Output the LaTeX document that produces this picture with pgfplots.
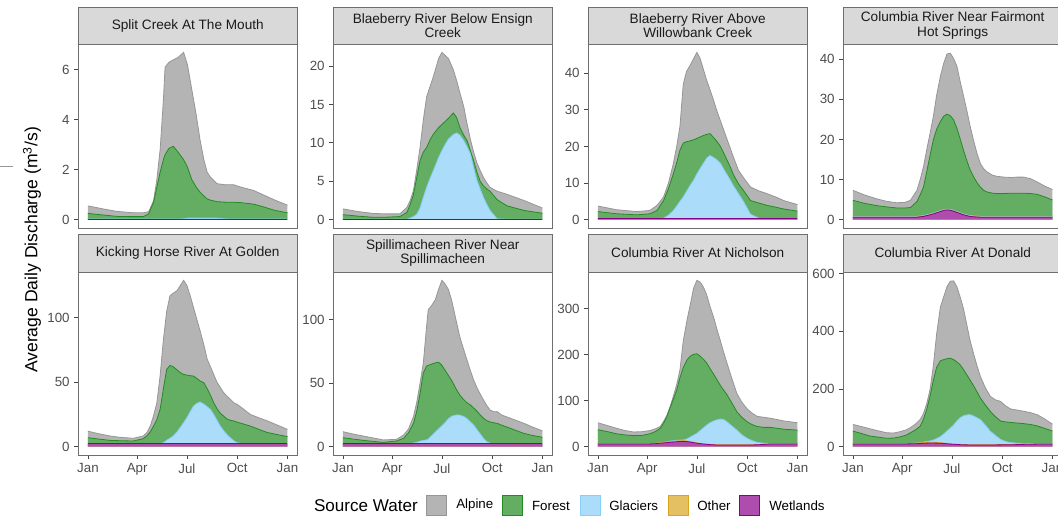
\documentclass[border=0pt]{standalone}
\usepackage{fontspec}
\setmainfont{Liberation Sans}
\usepackage{pgfplots}
\usepackage{pgfplotstable}
\pgfplotsset{compat=1.18}

\definecolor{cA}{RGB}{180,180,180}\definecolor{lA}{RGB}{150,150,150}
\definecolor{cF}{RGB}{100,174,100}\definecolor{lF}{RGB}{34,139,34}
\definecolor{cG}{RGB}{171,221,251}\definecolor{lG}{RGB}{135,206,250}
\definecolor{cO}{RGB}{229,192,99}\definecolor{lO}{RGB}{218,165,32}
\definecolor{cW}{RGB}{174,77,174}\definecolor{lW}{RGB}{139,0,139}
\definecolor{bordercol}{RGB}{110,110,110}
\definecolor{tickcol}{RGB}{70,70,70}
\definecolor{labelcol}{RGB}{77,77,77}
\definecolor{stripfill}{RGB}{217,217,217}
\definecolor{striptext}{RGB}{26,26,26}

% columns: day, cumulative tops of Wetlands, Other, Glaciers, Forest, Alpine
\pgfplotstableread{
d W O G F A
0 0.02 0.02 0.02 0.25 0.55
30 0.02 0.02 0.02 0.18 0.42
53 0.02 0.02 0.02 0.13 0.33
80 0.02 0.02 0.02 0.12 0.28
101 0.02 0.02 0.02 0.12 0.27
111 0.02 0.02 0.02 0.23 0.32
120 0.02 0.02 0.02 0.70 0.75
126 0.02 0.02 0.02 1.30 1.60
132 0.02 0.02 0.02 1.90 2.80
138 0.02 0.02 0.02 2.40 4.80
141 0.02 0.02 0.02 2.60 6.10
148 0.02 0.02 0.02 2.85 6.30
156 0.02 0.02 0.02 2.94 6.40
165 0.02 0.02 0.02 2.70 6.50
175 0.02 0.02 0.03 2.40 6.70
182 0.02 0.02 0.06 2.10 6.20
190 0.02 0.02 0.06 1.60 5.20
198 0.02 0.02 0.06 1.30 4.20
205 0.02 0.02 0.06 1.10 3.20
212 0.02 0.02 0.06 0.95 2.40
218 0.02 0.02 0.06 0.83 1.90
224 0.02 0.02 0.06 0.78 1.70
236 0.02 0.02 0.06 0.72 1.44
250 0.02 0.02 0.03 0.70 1.40
266 0.02 0.02 0.02 0.70 1.40
280 0.02 0.02 0.02 0.68 1.30
303 0.02 0.02 0.02 0.62 1.17
320 0.02 0.02 0.02 0.52 1.00
340 0.02 0.02 0.02 0.38 0.80
365 0.02 0.02 0.02 0.27 0.58
}\tA

\pgfplotstableread{
d W O G F A
0 .05 .05 .05 .65 1.4
28 .05 .05 .05 .45 1.05
56 .05 .05 .05 .30 .80
80 .05 .05 .05 .32 .75
104 .05 .05 .05 .40 .75
117 .05 .05 .05 .95 1.6
123 .05 .05 .2 2.0 2.5
129 .05 .05 .4 3.3 3.8
135 .05 .05 .7 5.5 6.5
141 .05 .05 1.5 7.7 9.4
147 .05 .05 2.9 8.8 13
153 .05 .05 4.2 9.4 16
160 .05 .05 5.5 10.5 17.5
166 .05 .05 6.5 11.2 18.8
175 .05 .05 8.1 12.0 21
181 .05 .05 9.0 12.4 21.8
187 .05 .05 9.8 12.8 21.4
193 .05 .05 10.5 13.2 21
202 .05 .05 11.1 13.9 19.5
208 .05 .05 11.3 13.3 18.1
214 .05 .05 11.0 12.0 16.5
221 .05 .05 10.3 11.0 14.7
227 .05 .05 9.5 10.3 12.5
233 .05 .05 8.6 9.0 10.5
239 .05 .05 6.8 7.7 8.8
245 .05 .05 5.1 6.2 7.4
251 .05 .05 4.0 5.0 6.4
257 .05 .05 2.9 4.4 5.5
263 .05 .05 2.0 4.0 4.8
269 .05 .05 1.2 3.7 4.2
282 .05 .05 .1 2.6 3.7
300 .05 .05 .05 1.8 3.3
331 .05 .05 .05 1.2 2.5
365 .05 .05 .05 .83 1.5
}\tB

\pgfplotstableread{
d W O G F A
0 .3 .3 .3 2.2 3.7
34 .3 .3 .3 1.6 2.7
71 .3 .3 .3 1.3 2.2
95 .3 .3 .3 1.6 2.5
108 .3 .3 .3 2.5 3.9
120 .3 .3 .4 5.2 6.2
129 .3 .3 1.2 8.5 10
138 .3 .3 2.5 12.6 15.4
144 .3 .3 3.7 15.5 20
150 .3 .3 5.0 19.0 25.5
156 .3 .3 6.2 20.9 37
162 .3 .3 7.7 21.3 40.5
168 .3 .3 9.2 21.5 42
175 .3 .3 10.8 21.8 44
181 .3 .3 12.5 22.2 45.7
187 .3 .3 14.0 22.6 44
193 .3 .3 15.4 23.0 41
199 .3 .3 16.8 23.3 38
205 .3 .3 17.5 23.5 35.5
211 .3 .3 17.0 22.5 32.8
218 .3 .3 16.3 21.3 29.5
224 .3 .3 15.4 20.0 27
230 .3 .3 13.8 18.2 24.5
236 .3 .3 12.3 16.3 22
242 .3 .3 10.8 14.4 19.5
248 .3 .3 9.2 12.2 17
257 .3 .3 7.1 9.8 13.5
266 .3 .3 5.0 8.0 11.5
279 .3 .3 1.5 5.2 8.9
295 .3 .3 .3 4.5 7.8
309 .3 .3 .3 3.9 7.1
325 .3 .3 .3 3.4 6.2
340 .3 .3 .3 2.9 5.2
365 .3 .3 .3 2.3 4.1
}\tC

\pgfplotstableread{
d W O G F A
0 .6 .65 .8 4.8 7.3
20 .6 .65 .8 4.1 6.2
43 .6 .65 .8 3.5 5.2
60 .6 .65 .8 3.2 4.6
80 .6 .65 .8 2.9 4.2
95 .6 .65 .8 2.9 4.3
105 .6 .65 .8 3.0 4.8
117 .6 .65 .8 4.5 7.3
123 .7 .75 .9 6.2 10
129 .8 .85 1.0 8.1 13.2
135 1.0 1.05 1.2 12 17.5
141 1.2 1.25 1.4 16 21.5
147 1.4 1.45 1.6 19.9 25.7
153 1.7 1.75 1.9 22.5 31
160 2.0 2.05 2.2 24.5 35.8
166 2.3 2.35 2.5 25.8 39
172 2.4 2.45 2.6 26.3 41.3
178 2.35 2.4 2.55 25.9 41.5
184 2.1 2.15 2.3 24.9 40.2
190 1.8 1.85 2.0 22.8 38.3
196 1.5 1.55 1.7 20.2 34.5
202 1.2 1.25 1.4 17.4 31
208 1.0 1.05 1.2 14.8 27.4
214 .8 .85 1.0 12.5 23.5
221 .7 .75 .9 10.6 19.5
227 .65 .7 .85 9.2 16.5
233 .6 .65 .8 8.1 14
239 .6 .65 .8 7.3 12.7
245 .6 .65 .8 6.9 11.9
255 .6 .65 .8 6.6 11.1
263 .6 .65 .8 6.5 10.8
276 .6 .65 .8 6.5 10.6
290 .6 .65 .8 6.6 10.5
300 .6 .65 .8 6.6 10.6
312 .6 .65 .8 6.6 10.6
325 .6 .65 .8 6.5 10.2
337 .6 .65 .8 6.3 9.4
350 .6 .65 .8 5.7 8.4
365 .6 .65 .8 4.9 7.5
}\tD

\pgfplotstableread{
d W O G F A
0 2.2 2.3 2.3 7.0 12
20 2.2 2.3 2.3 5.9 10
40 2.2 2.3 2.3 4.9 8.3
60 2.2 2.3 2.3 4.6 7.2
83 2.2 2.3 2.3 4.4 6.5
101 2.2 2.3 2.3 6.2 8.3
108 2.2 2.3 2.3 8.5 11
114 2.2 2.3 2.3 11.5 16
120 2.2 2.3 2.3 16 24
126 2.2 2.3 2.3 21 34
132 2.2 2.3 2.3 29 55
138 2.2 2.3 3.0 45 83
144 2.2 2.3 5.0 60 105
150 2.2 2.3 6.5 63 117
156 2.2 2.3 8.3 62 119
163 2.2 2.3 11.5 59.5 121
169 2.2 2.3 15 57.4 125
175 2.2 2.3 18.6 56 129
181 2.2 2.3 22.5 55.5 125
187 2.2 2.3 27 55 117
193 2.2 2.3 31.5 54.8 108
199 2.2 2.3 33.5 53 99
205 2.2 2.3 34.6 51 90
212 2.2 2.3 33 49.6 79
218 2.2 2.3 31 45 68
224 2.2 2.3 28.9 40 62
230 2.2 2.3 25 34.1 56
236 2.2 2.3 20.5 29.5 50
242 2.2 2.3 16 26 46
248 2.2 2.3 12.5 23.8 42
254 2.2 2.3 9.5 21.5 39.3
260 2.2 2.3 7 20.5 37
267 2.2 2.3 4.5 19.9 34
273 2.2 2.3 3 19 32.8
285 2.2 2.3 2.3 17.5 29
297 2.2 2.3 2.3 16 25
312 2.2 2.3 2.3 13.5 22.5
328 2.2 2.3 2.3 11 20
345 2.2 2.3 2.3 9.5 17
365 2.2 2.3 2.3 7.8 13.4
}\tE

\pgfplotstableread{
d W O G F A
0 2.2 2.3 2.3 7.1 11.8
20 2.2 2.3 2.3 5.9 9.8
43 2.2 2.3 2.3 4.7 7.9
74 2.2 2.3 2.3 3.4 5.3
98 2.2 2.3 2.3 4.5 5.8
111 2.2 2.3 2.3 6.6 9.2
120 2.2 2.3 2.3 11 14
129 2.2 2.3 2.8 18.4 23.7
135 2.2 2.3 3.5 28 35
141 2.2 2.3 4.3 42 50
147 2.2 2.3 5 58 65.8
153 2.2 2.3 5.3 63.5 95
156 2.2 2.3 6 64 107.9
162 2.2 2.3 8.5 65 111
169 2.2 2.3 11.5 66 115.8
175 2.2 2.3 14 66.5 124
181 2.2 2.3 16.5 64 131
187 2.2 2.3 19 60 128
193 2.2 2.3 22 56 123.7
199 2.2 2.3 24 52 115
208 2.2 2.3 25 44.7 97.4
214 2.2 2.3 24.8 40.5 86
221 2.2 2.3 23.7 37 76.3
227 2.2 2.3 22 34.5 68
233 2.2 2.3 19.5 32.9 60
239 2.2 2.3 17.1 30.5 52.6
245 2.2 2.3 13.5 28 46.5
251 2.2 2.3 10 25 41.5
257 2.2 2.3 6.6 22.4 36.8
263 2.2 2.3 4 20.5 32.5
269 2.2 2.3 2.8 19.5 28.9
276 2.2 2.3 2.3 18.8 27.5
282 2.2 2.3 2.3 18.4 27.6
290 2.2 2.3 2.3 17 25
306 2.2 2.3 2.3 14.5 22.4
318 2.2 2.3 2.3 12.5 20.5
331 2.2 2.3 2.3 10.5 18.4
345 2.2 2.3 2.3 9 15.8
365 2.2 2.3 2.3 7.4 12.4
}\tF

\pgfplotstableread{
d W O G F A
0 6 6.5 6.5 37 52
20 6 6.5 6.5 32 45
34 6 6.5 6.5 28 40
50 6 6.5 6.5 25.5 35
65 6 6.5 6.5 24 32
80 6 6.5 6.5 24.5 32.5
95 6 6.5 6.5 28 35
105 6.5 7 7 33 39
114 7.5 8.5 8.5 40 44
120 8.2 9.5 9.5 51 55
126 8.8 10.3 10.5 65 68
132 9.4 11 12 85 87
138 10.1 11.6 13 104 110
144 10.8 12.3 13.8 123 135
150 11.3 12.8 14.3 150 167
156 11.6 13 14.5 172 230
163 11 12.3 17 189 276
169 10 11 21 197 310
175 8.8 9.6 25 201 345
181 7.5 8.2 29 202 362
187 6.6 7.2 35 197 358
193 5.8 6.3 41 190 347
199 5.1 5.6 47 182 330
205 4.5 5 52 170 305
212 4 4.5 56 157 280
218 3.6 4.1 58.5 145 254
224 3.6 4.1 60 133 230
230 3.5 4 59 123 205
236 3.5 4 54 113 182
245 3.5 4 45 95 148
254 3.5 4 36 76 116
263 3.5 4 26 64 97
273 3.6 4.1 18 54 82
282 3.8 4.3 13 48 73
291 4 4.5 9.4 44 66
303 4.8 5.3 7.5 42 64
315 5.8 6.3 7 42 62
328 6 6.5 6.7 40 59
340 6 6.5 6.6 38 56
353 6 6.5 6.5 37 54
365 6 6.5 6.5 36 52
}\tG

\pgfplotstableread{
d W O G F A
0 9 10 10 54 77
15 9 10 10 46 70
31 9 10 10 37 62
46 9 10 10 33 55
62 9 10 10 29 48
75 9 10 10 30 47.5
86 9.2 10.2 10.2 34 52
97 9.5 10.5 10.5 40 58
105 9.8 11 11 48 66
114 10.2 12 12 58 78
123 11 13.5 14 71 94
129 11.8 14.5 16 95 115
135 12.3 15 18 130 150
141 12.5 15.3 20 175 198
147 12.5 15.2 23 230 280
153 12.3 14.8 28 275 390
160 12 14 35 298 485
166 11 12.5 44 302 520
172 10 11.3 54 305 555
178 9 10 64 307 574
184 8.3 9.2 75 302 575
190 7.6 8.5 89 294 555
196 7 7.8 100 284 520
202 6.5 7.3 107 268 480
208 6.2 7 110 250 425
214 6 6.8 111 232 370
221 6 6.8 106 210 320
227 6 6.8 100 190 280
233 6 6.8 94 169 244
242 6 6.8 75 145 205
251 6 6.8 54 123 175
260 6.1 6.9 40 105 163
270 6.3 7.1 25 89 157
279 6.4 7.3 18 86 142
288 6.5 7.5 14 84 131
300 7.2 8.2 12 82 127
312 8 9 11 80 123
325 8.5 9.5 10.5 77 118
337 9 10 10 72 111
350 9 10 10 64 97
365 9 10 10 54 78
}\tH

\pgfplotsset{
  panel/.style={
    scale only axis, width=164.6pt,
    anchor=south west,
    xmin=-18.25, xmax=383.25,
    axis on top,
    axis line style={draw=bordercol, line width=0.6pt},
    tick style={draw=tickcol, line width=0.6pt},
    tick align=outside,
    major tick length=2.75pt,
    tick pos=left,
    yticklabel style={font=\fontsize{10}{11}\selectfont, text=labelcol},
    xticklabel style={font=\fontsize{10}{11}\selectfont, text=labelcol},
    /pgf/number format/assume math mode=true,
    /pgf/number format/fixed,
    scaled y ticks=false,
  },
  toprow/.style={panel, height=138pt, xtick=\empty},
  botrow/.style={panel, height=137.25pt, xtick={0,90,181,273,365}, xticklabels={Jan,Apr,Jul,Oct,Jan}},
}

\newcommand{\drawstack}[1]{%
  \addplot[fill=cA, draw=none] table[x=d,y=A]{#1}\closedcycle;
  \addplot[draw=lA, line width=0.6pt] table[x=d,y=A]{#1};
  \addplot[fill=cF, draw=none] table[x=d,y=F]{#1}\closedcycle;
  \addplot[draw=lF, line width=0.6pt] table[x=d,y=F]{#1};
  \addplot[fill=cG, draw=none] table[x=d,y=G]{#1}\closedcycle;
  \addplot[draw=lG, line width=0.6pt] table[x=d,y=G]{#1};
  \addplot[fill=cO, draw=none] table[x=d,y=O]{#1}\closedcycle;
  \addplot[draw=lO, line width=0.6pt] table[x=d,y=O]{#1};
  \addplot[fill=cW, draw=none] table[x=d,y=W]{#1}\closedcycle;
  \addplot[draw=lW, line width=0.6pt] table[x=d,y=W]{#1};
}

\tikzset{
  stripbox/.style={fill=stripfill, draw=bordercol, line width=0.6pt},
  striptxt/.style={font=\fontsize{10.2}{11}\selectfont, text=striptext, align=center, inner sep=0pt},
  legtxt/.style={font=\fontsize{10}{11}\selectfont, anchor=west, inner sep=0pt},
  legbox/.style={line width=0.7pt},
}

\newcommand{\strip}[3]{% axis name, height, text
  \draw[stripbox] (#1.north west) rectangle ([yshift=#2]#1.north east);
  \node[striptxt] at ([yshift=#2/2]#1.north) {#3};
}

\begin{document}
\begin{tikzpicture}
\useasboundingbox (0,0) rectangle (793.5pt,387.75pt);

% ---------- top row ----------
\begin{axis}[toprow, name=p1, at={(58.5pt,216.75pt)}, ymin=-0.335, ymax=7.035, ytick={0,2,4,6}]
\drawstack{\tA}
\end{axis}
\strip{p1}{27.75pt}{Split Creek At The Mouth}

\begin{axis}[toprow, name=p2, at={(249.75pt,216.75pt)}, ymin=-1.09, ymax=22.89, ytick={0,5,10,15,20}]
\drawstack{\tB}
\end{axis}
\strip{p2}{27.75pt}{Blaeberry River Below Ensign\\Creek}

\begin{axis}[toprow, name=p3, at={(441pt,216.75pt)}, ymin=-2.29, ymax=47.99, ytick={0,10,20,30,40}]
\drawstack{\tC}
\end{axis}
\strip{p3}{27.75pt}{Blaeberry River Above\\Willowbank Creek}

\begin{axis}[toprow, name=p4, at={(632.25pt,216.75pt)}, ymin=-2.09, ymax=43.8, ytick={0,10,20,30,40}]
\drawstack{\tD}
\end{axis}
\strip{p4}{27.75pt}{Columbia River Near Fairmont\\Hot Springs}

% ---------- bottom row ----------
\begin{axis}[botrow, name=p5, at={(58.5pt,46.5pt)}, ymin=-6.45, ymax=135.45, ytick={0,50,100}]
\drawstack{\tE}
\end{axis}
\strip{p5}{28.5pt}{Kicking Horse River At Golden}

\begin{axis}[botrow, name=p6, at={(249.75pt,46.5pt)}, ymin=-6.55, ymax=137.55, ytick={0,50,100}]
\drawstack{\tF}
\end{axis}
\strip{p6}{28.5pt}{Spillimacheen River Near\\Spillimacheen}

\begin{axis}[botrow, name=p7, at={(441pt,46.5pt)}, ymin=-18.1, ymax=380.1, ytick={0,100,200,300}]
\drawstack{\tG}
\end{axis}
\strip{p7}{28.5pt}{Columbia River At Nicholson}

\begin{axis}[botrow, name=p8, at={(632.25pt,46.5pt)}, ymin=-28.85, ymax=605.85, ytick={0,200,400,600}]
\drawstack{\tH}
\end{axis}
\strip{p8}{28.5pt}{Columbia River At Donald}

% ---------- y axis title ----------
\node[rotate=90, font=\fontsize{13.2}{15}\selectfont, inner sep=0pt] at (24pt,200.25pt) {Average Daily Discharge (m\textsuperscript{3}/s)};
\draw[draw=lA, line width=0.75pt] (0pt,262.5pt) -- (9.75pt,262.5pt);

% ---------- legend ----------
\node[font=\fontsize{12.8}{14}\selectfont, anchor=west, inner sep=0pt] at (235.3pt,8.6pt) {Source Water};
\draw[legbox, fill=cA, draw=lA] (320pt,0.9pt) rectangle (335.2pt,16.1pt);
\node[legtxt] at (342pt,8.6pt) {Alpine};
\draw[legbox, fill=cF, draw=lF] (377pt,0.9pt) rectangle (392.2pt,16.1pt);
\node[legtxt] at (398.85pt,8.6pt) {Forest};
\draw[legbox, fill=cG, draw=lG] (435pt,0.9pt) rectangle (450.2pt,16.1pt);
\node[legtxt] at (456.75pt,8.6pt) {Glaciers};
\draw[legbox, fill=cO, draw=lO] (501.3pt,0.9pt) rectangle (516.5pt,16.1pt);
\node[legtxt] at (522.75pt,8.6pt) {Other};
\draw[legbox, fill=cW, draw=lW] (554.4pt,0.9pt) rectangle (569.6pt,16.1pt);
\node[legtxt] at (576.75pt,8.6pt) {Wetlands};
\end{tikzpicture}
\end{document}
